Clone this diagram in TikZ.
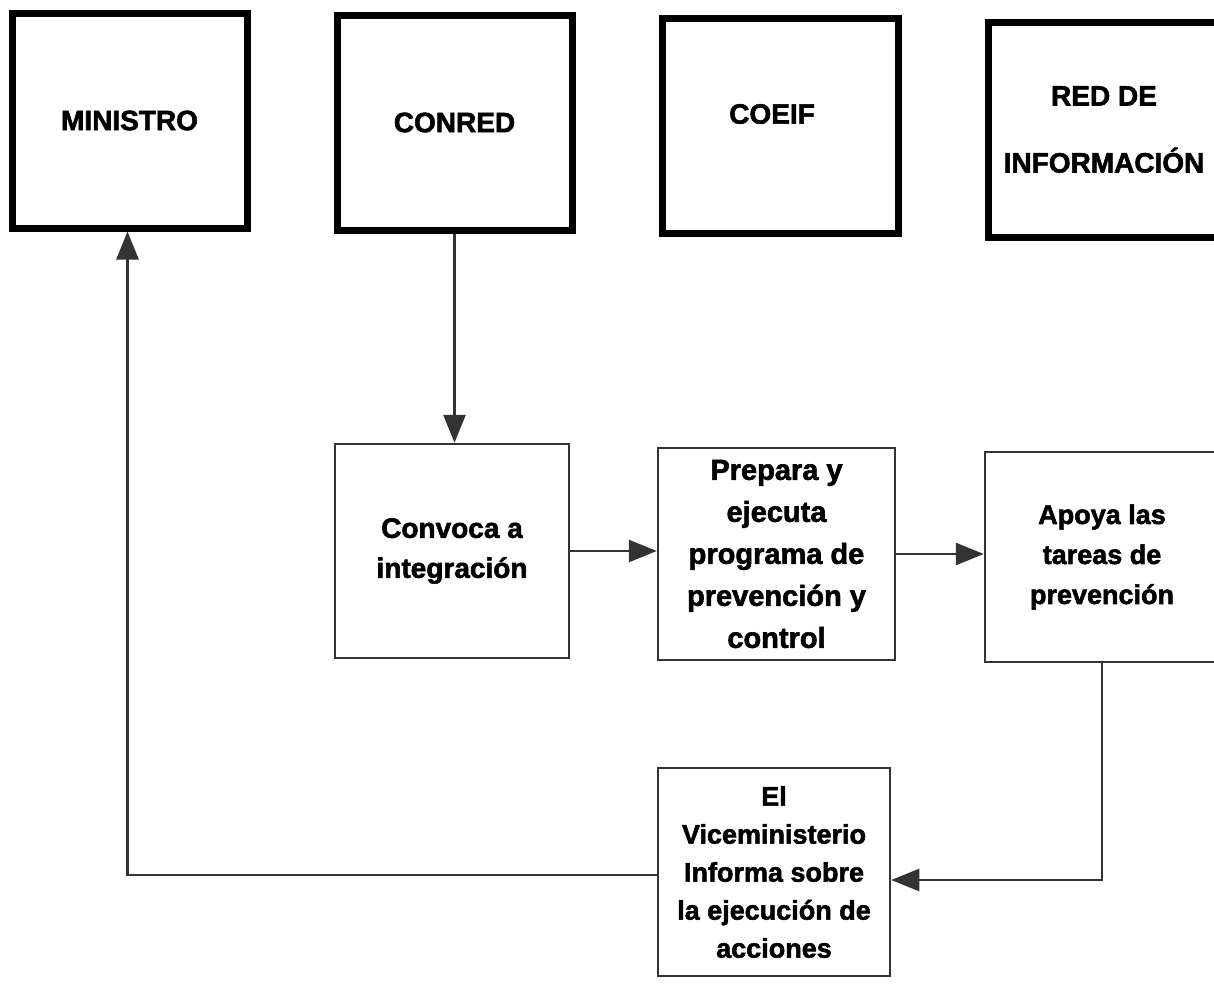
\documentclass[tikz,border=0pt]{standalone}
\usepackage{fontspec}
\setmainfont{Liberation Sans}
\newfontfamily\heavy{Liberation Sans}[BoldFeatures={FakeBold=2}]
\usetikzlibrary{arrows.meta}
\begin{document}
\begin{tikzpicture}[x=1pt,y=-1pt,
  topbox/.style={draw=black,line width=7pt,rectangle,inner sep=0pt,align=center,
    font=\heavy\bfseries\fontsize{28}{34}\selectfont},
  stepbox/.style={draw=black!80,line width=2.5pt,rectangle,inner sep=0pt,align=center},
  conn/.style={draw=black!80,line width=2.8pt},
  arr/.style={conn,-{Triangle[length=28pt,width=22pt]}}]
\useasboundingbox (0,0) rectangle (1214,983);
% top row
\node[topbox,minimum width=235pt,minimum height=215pt] (min) at (129.5,120.5) {MINISTRO};
\node[topbox,minimum width=235pt,minimum height=215pt] (conred) at (454.5,122.5) {CONRED};
\node[topbox,minimum width=236pt,minimum height=215pt] (coeif) at (780,125.5) {};
\node[font=\heavy\bfseries\fontsize{28}{34}\selectfont] (coeiftxt) at (772,114) {COEIF};
\node[topbox,minimum width=232pt,minimum height=215pt,
  font=\heavy\bfseries\fontsize{28}{67}\selectfont] (red) at (1104,129.5) {RED DE\\INFORMACIÓN};
% middle row
\node[stepbox,minimum width=234pt,minimum height=214pt,
  font=\heavy\bfseries\fontsize{28}{40}\selectfont] (convoca) at (452,551) {Convoca a\\integración};
\node[stepbox,minimum width=237pt,minimum height=212pt,
  font=\heavy\bfseries\fontsize{29}{42}\selectfont] (prepara) at (776.5,554) {Prepara y\\ejecuta\\programa de\\prevención y\\control};
\node[stepbox,minimum width=234pt,minimum height=210pt,
  font=\heavy\bfseries\fontsize{27}{40}\selectfont] (apoya) at (1102,557) {Apoya las\\tareas de\\prevención};
% bottom
\node[stepbox,minimum width=232pt,minimum height=208pt,
  font=\heavy\bfseries\fontsize{27}{38}\selectfont] (vice) at (774,872) {El\\Viceministerio\\Informa sobre\\la ejecución de\\acciones};
% connectors
\draw[arr] (conred.south) -- (conred.south |- convoca.north);
\draw[arr] (convoca.east) -- (convoca.east -| prepara.west);
\draw[arr] (prepara.east) -- (prepara.east -| apoya.west);
\draw[arr] (apoya.south) |- ([yshift=-8pt]vice.east);
\draw[arr] ([yshift=-3pt]vice.west) -| ([xshift=-2pt]min.south);
\end{tikzpicture}
\end{document}
